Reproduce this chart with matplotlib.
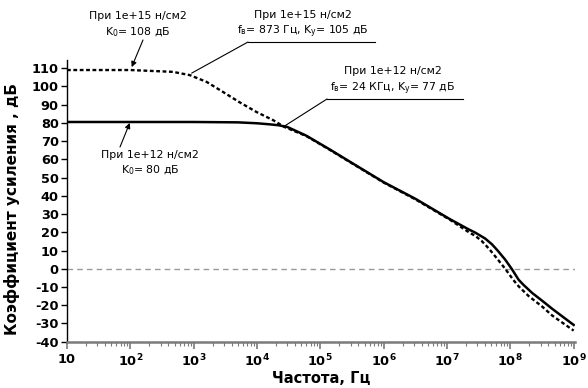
import matplotlib
matplotlib.use("Agg")
import matplotlib.pyplot as plt
from matplotlib.lines import Line2D
from matplotlib.ticker import FixedLocator, LogLocator, NullFormatter
import numpy as np

plt.rcParams["axes.unicode_minus"] = False

# ---- data ----
freq_1e12 = [10, 1e2, 1e3, 5e3, 1e4, 1.6e4, 2.2e4, 3e4, 6e4, 1.4e5, 3e5, 1e6, 3.2e6,
             1.1e7, 2.2e7, 2.8e7, 4e7, 5.1e7, 6.3e7, 8.3e7, 1.05e8, 1.35e8, 1.6e8,
             2.2e8, 3.2e8, 4.6e8, 1e9]
gain_1e12 = [80.5, 80.5, 80.5, 80.3, 79.8, 79.2, 78.7, 77.8, 73.0, 65.5, 58.5, 47.5, 38.3,
             27.3, 21.6, 19.8, 16.6, 13.5, 10.0, 5.0, 0.0, -6.0, -8.7,
             -13.2, -17.6, -22.0, -30.8]

freq_1e15 = [10, 1e2, 4.7e2, 8.7e2, 1.6e3, 2.9e3, 5.2e3, 9.8e3, 1.8e4, 2.7e4, 6e4, 1.4e5,
             3e5, 1e6, 3.2e6, 1.1e7, 2.2e7, 2.8e7, 3.5e7, 4.6e7, 6.2e7, 8.3e7, 9.5e7,
             1.12e8, 1.35e8, 1.95e8, 3.2e8, 4.6e8, 1e9]
gain_1e15 = [109, 109, 108, 106.2, 102.5, 97, 91.5, 86, 81.5, 77.8, 72.8, 65.3,
             58.3, 47.3, 38.0, 27.0, 20.1, 18.0, 15.4, 11.0, 5.5, 0.0, -2.8,
             -6.2, -9.6, -15.0, -20.8, -25.7, -33.9]

y_ticks = list(range(-40, 111, 10))
x_ticks = [10 ** k for k in range(1, 10)]
x_tick_labels = ["10"] + [r"$\mathbf{10^{%d}}$" % k for k in range(2, 10)]

ann_k0_15 = "При 1e+15 н/см2\nK$_\\mathregular{0}$= 108 дБ"
ann_fc_15 = "При 1e+15 н/см2\nf$_\\mathregular{в}$= 873 Гц, K$_\\mathregular{у}$= 105 дБ"
ann_fc_12 = "При 1e+12 н/см2\nf$_\\mathregular{в}$= 24 КГц, K$_\\mathregular{у}$= 77 дБ"
ann_k0_12 = "При 1e+12 н/см2\nK$_\\mathregular{0}$= 80 дБ"

W, H = 588, 388
fig = plt.figure(figsize=(W / 100, H / 100), dpi=100)
ax = fig.add_axes([67 / W, 1 - 341.7 / H, (575 - 67) / W, (341.7 - 60) / H])

ax.set_xscale("log")
ax.set_xlim(10, 1.05e9)
ax.set_ylim(-40, 114.5)

ax.axhline(0, color="#9a9a9a", lw=1.0, dashes=(4, 3), zorder=1)
ax.plot(freq_1e15, gain_1e15, color="black", lw=1.7, dashes=(1.6, 1.1), zorder=3)
ax.plot(freq_1e12, gain_1e12, color="black", lw=1.8, zorder=4)

# spines
for s in ["top", "right"]:
    ax.spines[s].set_visible(False)
ax.spines["left"].set_color("black")
ax.spines["left"].set_linewidth(1.0)
ax.spines["bottom"].set_color("#7a7a7a")
ax.spines["bottom"].set_linewidth(1.8)

ax.yaxis.set_major_locator(FixedLocator(y_ticks))
ax.xaxis.set_major_locator(FixedLocator(x_ticks))
ax.xaxis.set_minor_locator(LogLocator(base=10, subs=np.arange(2, 10), numticks=20))
ax.xaxis.set_minor_formatter(NullFormatter())
ax.set_xticklabels(x_tick_labels)
ax.tick_params(axis="y", direction="out", length=4, width=1, pad=2, labelsize=9.3,
               colors="black")
ax.tick_params(axis="x", which="major", direction="out", length=5, width=1.2,
               color="#7a7a7a", pad=3, labelsize=9.3, labelcolor="black")
ax.tick_params(axis="x", which="minor", direction="out", length=3, width=0.8,
               color="#7a7a7a")
for lab in ax.get_yticklabels() + ax.get_xticklabels():
    lab.set_fontweight("bold")

ax.set_ylabel("Коэффициент усиления , дБ", fontsize=11, fontweight="bold")
ax.yaxis.set_label_coords(-0.092, 0.47)
ax.set_xlabel("Частота, Гц", fontsize=10.5, fontweight="bold", labelpad=1)

afs = 7.8
lsp = 1.4
arrow = dict(arrowstyle="-|>", color="black", lw=0.8, mutation_scale=8,
             shrinkA=0, shrinkB=0)
leader = dict(arrowstyle="-", color="black", lw=0.8, shrinkA=0, shrinkB=0)

# annotation 1 (top-left)
fig.text(138 / W, 1 - 25 / H, ann_k0_15, ha="center", va="center", fontsize=afs,
         linespacing=lsp)
ax.annotate("", xy=(105, 110.6), xycoords="data", xytext=(143, H - 40),
            textcoords="figure pixels", arrowprops=arrow)

# annotation 2 (top-middle)
fig.text(303 / W, 1 - 25 / H, ann_fc_15, ha="center", va="center", fontsize=afs,
         linespacing=lsp)
ax.annotate("", xy=(930, 107.3), xycoords="data", xytext=(248, H - 42),
            textcoords="figure pixels", arrowprops=leader)
fig.add_artist(Line2D([248 / W, 375 / W], [1 - 42 / H, 1 - 42 / H], color="black",
                      lw=0.8, transform=fig.transFigure))

# annotation 3 (right)
fig.text(393 / W, 1 - 81.5 / H, ann_fc_12, ha="center", va="center", fontsize=afs,
         linespacing=lsp)
ax.annotate("", xy=(2.7e4, 78.2), xycoords="data", xytext=(327, H - 99),
            textcoords="figure pixels", arrowprops=leader)
fig.add_artist(Line2D([327 / W, 463 / W], [1 - 99 / H, 1 - 99 / H], color="black",
                      lw=0.8, transform=fig.transFigure))

# annotation 4 (lower-left)
fig.text(150 / W, 1 - 163.5 / H, ann_k0_12, ha="center", va="center", fontsize=afs,
         linespacing=lsp)
ax.annotate("", xy=(98, 80.0), xycoords="data", xytext=(120, H - 147),
            textcoords="figure pixels", arrowprops=arrow)

fig.savefig("out.png", dpi=100)
